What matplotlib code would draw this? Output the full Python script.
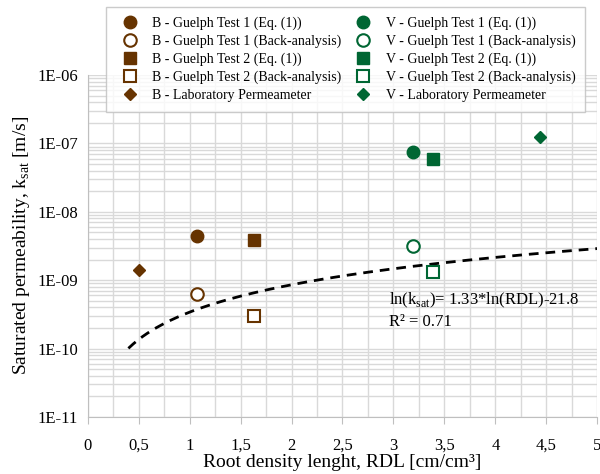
#Saturated permeability vs root density length, B and V sites
import numpy as np
import matplotlib.pyplot as plt
from matplotlib.ticker import MultipleLocator, LogLocator, NullFormatter

plt.rcParams['font.family'] = ['Liberation Serif', 'DejaVu Serif']
plt.rcParams['mathtext.fontset'] = 'custom'
plt.rcParams['mathtext.rm'] = 'Liberation Serif'

brown = '#663300'
green = '#006633'

# RDL [cm/cm3] and k_sat [m/s]
b_t1_eq_x, b_t1_eq_y = [1.07], [4.5e-9]
b_t1_ba_x, b_t1_ba_y = [1.07], [6.3e-10]
b_t2_eq_x, b_t2_eq_y = [1.63], [3.9e-9]
b_t2_ba_x, b_t2_ba_y = [1.63], [3.0e-10]
b_lab_x, b_lab_y = [0.50], [1.4e-9]

v_t1_eq_x, v_t1_eq_y = [3.19], [7.6e-8]
v_t1_ba_x, v_t1_ba_y = [3.19], [3.2e-9]
v_t2_eq_x, v_t2_eq_y = [3.39], [6.0e-8]
v_t2_ba_x, v_t2_ba_y = [3.39], [1.3e-9]
v_lab_x, v_lab_y = [4.44], [1.24e-7]

# trend line from the fitted equation shown on the chart
fit_a, fit_b = 1.33, -21.8
rdl_fit = np.linspace(0.4, 5.0, 200)
k_fit = np.exp(fit_a * np.log(rdl_fit) + fit_b)

fig = plt.figure(figsize=(6, 4.74), dpi=100)
ax = fig.add_axes([0.146, 0.1203, 0.8496, 0.7215])

ax.plot(rdl_fit, k_fit, color='black', ls=(0, (3.5, 2.5)), lw=2, zorder=2)

h = []
h.append(ax.plot(b_t1_eq_x, b_t1_eq_y, 'o', ms=9, color=brown, label='B - Guelph Test 1 (Eq. (1))')[0])
h.append(ax.plot(b_t1_ba_x, b_t1_ba_y, 'o', ms=9, mfc='white', mec=brown, mew=1.5, label='B - Guelph Test 1 (Back-analysis)')[0])
h.append(ax.plot(b_t2_eq_x, b_t2_eq_y, 's', ms=8.5, color=brown, label='B - Guelph Test 2 (Eq. (1))')[0])
h.append(ax.plot(b_t2_ba_x, b_t2_ba_y, 's', ms=8.5, mfc='white', mec=brown, mew=1.5, label='B - Guelph Test 2 (Back-analysis)')[0])
h.append(ax.plot(b_lab_x, b_lab_y, 'D', ms=6, color=brown, label='B - Laboratory Permeameter')[0])
h.append(ax.plot(v_t1_eq_x, v_t1_eq_y, 'o', ms=9, color=green, label='V - Guelph Test 1 (Eq. (1))')[0])
h.append(ax.plot(v_t1_ba_x, v_t1_ba_y, 'o', ms=9, mfc='white', mec=green, mew=1.5, label='V - Guelph Test 1 (Back-analysis)')[0])
h.append(ax.plot(v_t2_eq_x, v_t2_eq_y, 's', ms=8.5, color=green, label='V - Guelph Test 2 (Eq. (1))')[0])
h.append(ax.plot(v_t2_ba_x, v_t2_ba_y, 's', ms=8.5, mfc='white', mec=green, mew=1.5, label='V - Guelph Test 2 (Back-analysis)')[0])
h.append(ax.plot(v_lab_x, v_lab_y, 'D', ms=6, color=green, label='V - Laboratory Permeameter')[0])

ax.set_yscale('log')
ax.set_xlim(0, 5)
ax.set_ylim(1e-11, 1e-6)

ax.xaxis.set_minor_locator(MultipleLocator(0.25))
ax.set_xticks([0, 0.5, 1, 1.5, 2, 2.5, 3, 3.5, 4, 4.5, 5])
ax.set_xticklabels(['0', '0,5', '1', '1,5', '2', '2,5', '3', '3,5', '4', '4,5', '5'])
ax.yaxis.set_minor_locator(LogLocator(base=10, subs=np.arange(2, 10), numticks=100))
ax.yaxis.set_minor_formatter(NullFormatter())
ax.set_yticks([1e-11, 1e-10, 1e-9, 1e-8, 1e-7, 1e-6])
ax.set_yticklabels(['1E-11', '1E-10', '1E-09', '1E-08', '1E-07', '1E-06'])

ax.grid(True, which='both', color='#d9d9d9', lw=1)
ax.set_axisbelow(True)
for s in ['top', 'right']:
    ax.spines[s].set_visible(False)
for s in ['left', 'bottom']:
    ax.spines[s].set_color('#bfbfbf')
ax.tick_params(axis='x', which='major', length=5, color='#bfbfbf', labelsize=12, pad=10)
ax.tick_params(axis='x', which='minor', length=0)
ax.tick_params(axis='y', which='both', length=0, labelsize=12, pad=7)

ax.set_xlabel('Root density lenght, RDL [cm/cm³]', fontsize=14, labelpad=0)
ax.set_ylabel('Saturated permeability, k$_{\\mathrm{sat}}$ [m/s]', fontsize=14, labelpad=4)

ax.text(2.96, 5.1e-10, 'ln(k$_{\\mathrm{sat}}$)= 1.33*ln(RDL)-21.8', fontsize=12, va='center')
ax.text(2.96, 2.45e-10, 'R² = 0.71', fontsize=12, va='center')

leg = fig.legend(handles=h, ncol=2, loc='upper left',
                 bbox_to_anchor=(106 / 600, 1 - 7 / 474), borderaxespad=0,
                 frameon=True, fancybox=False, edgecolor='#bfbfbf', fontsize=10,
                 handletextpad=0.6, columnspacing=0.6, labelspacing=0.33,
                 borderpad=0.7, handlelength=2.0)
leg.get_frame().set_linewidth(1)

plt.savefig('out.png', dpi=100)
